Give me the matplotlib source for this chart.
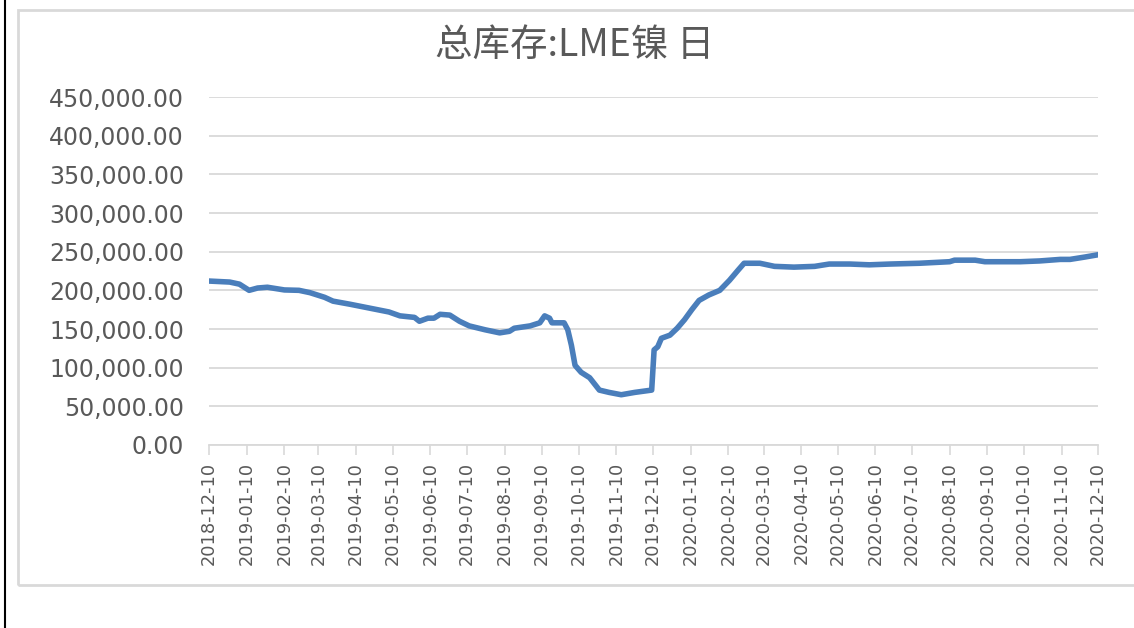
import matplotlib
matplotlib.use("Agg")
import matplotlib.pyplot as plt
import matplotlib.dates as mdates
import pandas as pd
from matplotlib.patches import Rectangle
from matplotlib.lines import Line2D
from matplotlib.ticker import FuncFormatter

# LME nickel total stocks
dates = [
    "2018-12-10", "2018-12-27", "2019-01-04", "2019-01-08", "2019-01-12", "2019-01-19",
    "2019-01-27", "2019-02-10", "2019-02-22", "2019-03-03", "2019-03-15", "2019-03-22",
    "2019-04-05", "2019-04-21", "2019-05-07", "2019-05-16", "2019-05-28", "2019-06-01",
    "2019-06-08", "2019-06-13", "2019-06-18", "2019-06-26", "2019-07-04", "2019-07-12",
    "2019-07-25", "2019-08-06", "2019-08-14", "2019-08-18", "2019-08-31", "2019-09-08",
    "2019-09-12", "2019-09-16", "2019-09-18", "2019-09-28", "2019-10-01", "2019-10-04",
    "2019-10-07", "2019-10-12", "2019-10-19", "2019-10-27", "2019-11-04", "2019-11-14",
    "2019-11-25", "2019-12-09", "2019-12-11", "2019-12-14", "2019-12-17", "2019-12-24",
    "2019-12-30", "2020-01-05", "2020-01-11", "2020-01-17", "2020-01-25", "2020-02-03",
    "2020-02-11", "2020-02-18", "2020-02-23", "2020-03-07", "2020-03-19", "2020-04-04",
    "2020-04-21", "2020-05-03", "2020-05-20", "2020-06-05", "2020-06-22", "2020-07-16",
    "2020-08-10", "2020-08-14", "2020-08-31", "2020-09-08", "2020-10-07", "2020-10-23",
    "2020-11-09", "2020-11-17", "2020-11-29", "2020-12-10",
]
stocks = [
    212000, 210700, 208000, 204000, 200000, 203000,
    204000, 200500, 200000, 197000, 191000, 186000,
    182000, 177000, 172000, 167000, 165000, 160000,
    164000, 164000, 169000, 168000, 160000, 154000,
    149000, 145000, 147000, 151000, 154000, 158000,
    167000, 164000, 158000, 158000, 149000, 129000,
    103000, 94000, 87000, 71000, 68000, 65000,
    68000, 71000, 123000, 127000, 138000, 142000,
    151000, 162000, 175000, 187000, 194000, 200000,
    213000, 226000, 235000, 235000, 231000, 230000,
    231000, 234000, 234000, 233000, 234000, 235000,
    237000, 239000, 239000, 237000, 237000, 238000,
    240000, 240000, 243000, 246000,
]
tick_dates = pd.date_range("2018-12-01", "2020-12-01", freq="MS") + pd.Timedelta(days=9)

title = "总库存:LME镍 日"
grey_txt = "#595959"

plt.rcParams["font.family"] = ["DejaVu Sans"]

fig = plt.figure(figsize=(11.34, 6.28), dpi=100)
ax = fig.add_axes([209 / 1134, 1 - 445 / 628, 889 / 1134, 348 / 628])

ax.plot(pd.to_datetime(dates), stocks, color="#4A7EBB", lw=4,
        solid_joinstyle="round", solid_capstyle="round")

ax.set_ylim(0, 450000)
ax.set_yticks(range(0, 450001, 50000))
ax.yaxis.set_major_formatter(FuncFormatter(lambda v, p: f"{v:,.2f}"))
ax.set_xlim(pd.Timestamp("2018-12-10"), pd.Timestamp("2020-12-10"))
ax.set_xticks(tick_dates)
ax.xaxis.set_major_formatter(mdates.DateFormatter("%Y-%m-%d"))

ax.grid(axis="y", color="#D9D9D9", lw=1.3)
ax.set_axisbelow(True)
for s in ["top", "right", "left"]:
    ax.spines[s].set_visible(False)
ax.spines["bottom"].set_color("#D9D9D9")
ax.spines["bottom"].set_linewidth(1.3)

ax.tick_params(axis="y", length=0, pad=18, labelsize=17, labelcolor=grey_txt)
ax.tick_params(axis="x", length=7, width=1.2, color="#D9D9D9", pad=5,
               labelsize=12.8, labelcolor=grey_txt, labelrotation=90)

fig.text(0.507, 1 - 45 / 628, title, ha="center", va="center", fontsize=27,
         color=grey_txt, family=["Noto Sans CJK SC", "DejaVu Sans"])

# chart frame and left black border
fig.add_artist(Rectangle((18 / 1134, 1 - 585 / 628), 1.2, 575 / 628,
                         transform=fig.transFigure, fill=False,
                         edgecolor="#D9D9D9", lw=2))
fig.add_artist(Line2D([5 / 1134, 5 / 1134], [0, 1], transform=fig.transFigure,
                      color="black", lw=1.5))

fig.savefig("out.png", dpi=100)
